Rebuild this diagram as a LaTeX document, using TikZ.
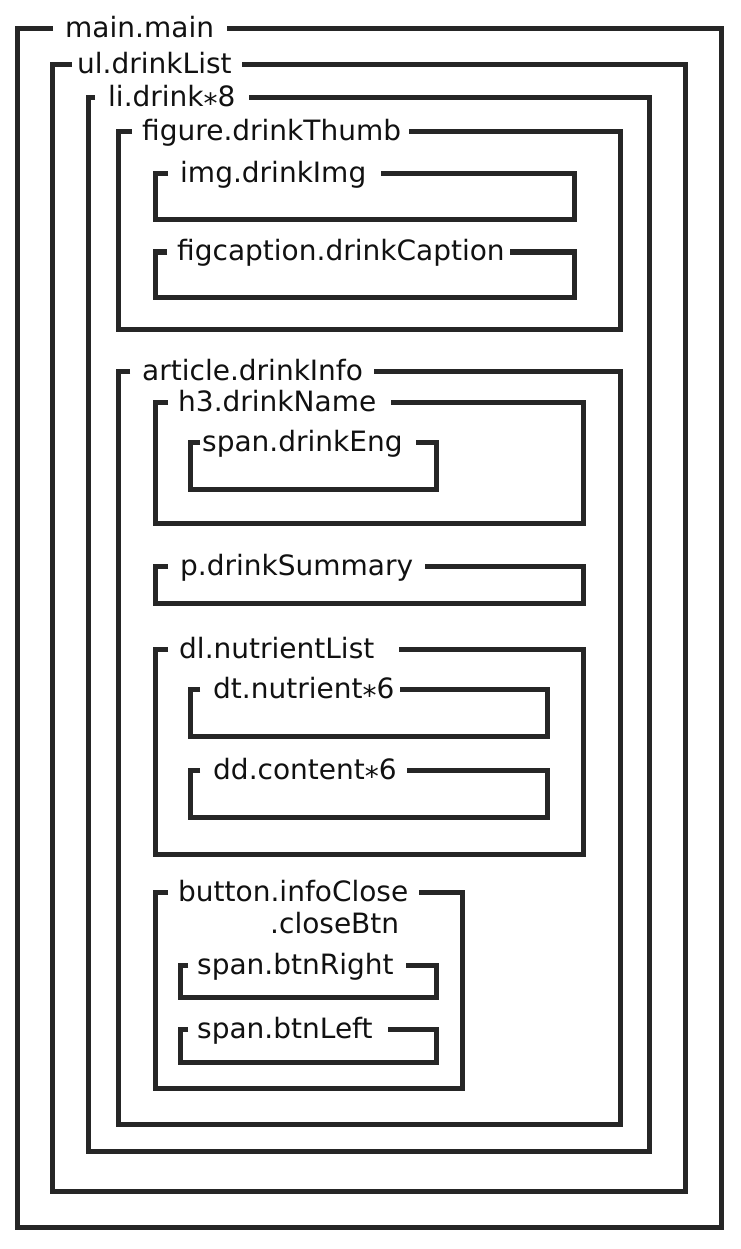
\documentclass[tikz,border=0pt]{standalone}
\usepackage{fontspec}
\newfontfamily\labfont{DejaVu Sans}
\definecolor{ink}{HTML}{262626}
\definecolor{txt}{HTML}{111111}
\newcommand\drawtagbox[9]{%
  \coordinate (#1TL) at (#2,#3);
  \coordinate (#1BR) at (#4,#5);
  \coordinate (#1A) at (#6,#3);
  \node[lab] (#1L) at (#7,#3+9) {#9};
  \draw[boxline] (#1A) -- (#1TL) -- (#1TL |- #1BR) -- (#1BR) -- (#1BR |- #1TL) -- ([xshift=#8pt]#1L.east |- #1TL);
}
\newcommand\lowstar{\raisebox{-7pt}[0.5em][0pt]{*}}
\begin{document}
\begin{tikzpicture}[x=1pt,y=-1pt,
  lab/.style={anchor=base west, inner sep=0pt, text=txt, font=\labfont\fontsize{28}{30}\selectfont},
  boxline/.style={draw=ink, line width=5pt, line join=miter, line cap=butt}]
\useasboundingbox (0,0) rectangle (740,1249);
\fill[white] (0,0) rectangle (740,1249);
\drawtagbox{main}{17.5}{29}{721}{1227}{53}{65}{13}{main.main}
\drawtagbox{ul}{52.5}{65}{685}{1191}{72}{77}{10}{ul.drinkList}
\drawtagbox{li}{88}{97.5}{649}{1151}{95}{108}{13}{li.drink\lowstar8}
\drawtagbox{fig}{118}{132}{620}{329}{132}{142}{8}{figure.drinkThumb}
\drawtagbox{img}{155.5}{173.5}{574}{220}{168}{180}{15}{img.drinkImg}
\drawtagbox{cap}{155.5}{252}{574}{297}{167}{177}{5}{figcaption.drinkCaption}
\drawtagbox{art}{118}{371}{620}{1124}{130}{142}{11}{article.drinkInfo}
\drawtagbox{hthree}{155.5}{402}{583}{523}{168}{178}{15}{h3.drinkName}
\drawtagbox{eng}{190.5}{442}{436}{489}{200}{202}{13}{span.drinkEng}
\drawtagbox{sum}{155.5}{566}{583}{603}{168}{180}{12}{p.drinkSummary}
\drawtagbox{dl}{155.5}{649}{583}{854}{168}{179}{24}{dl.nutrientList}
\drawtagbox{dt}{190.5}{689}{547}{736}{200}{213}{5}{dt.nutrient\lowstar6}
\drawtagbox{dd}{190.5}{770}{547}{817}{200}{213}{10}{dd.content\lowstar6}
\drawtagbox{btn}{155.5}{892}{462}{1088}{168}{178}{11}{button.infoClose}
\node[lab] (btnL2) at (270,933) {.closeBtn};
\drawtagbox{rgt}{180.5}{965}{436.5}{997}{188}{197}{12}{span.btnRight}
\drawtagbox{lft}{180.5}{1029}{436.5}{1062}{188}{197}{15}{span.btnLeft}
\end{tikzpicture}
\end{document}
